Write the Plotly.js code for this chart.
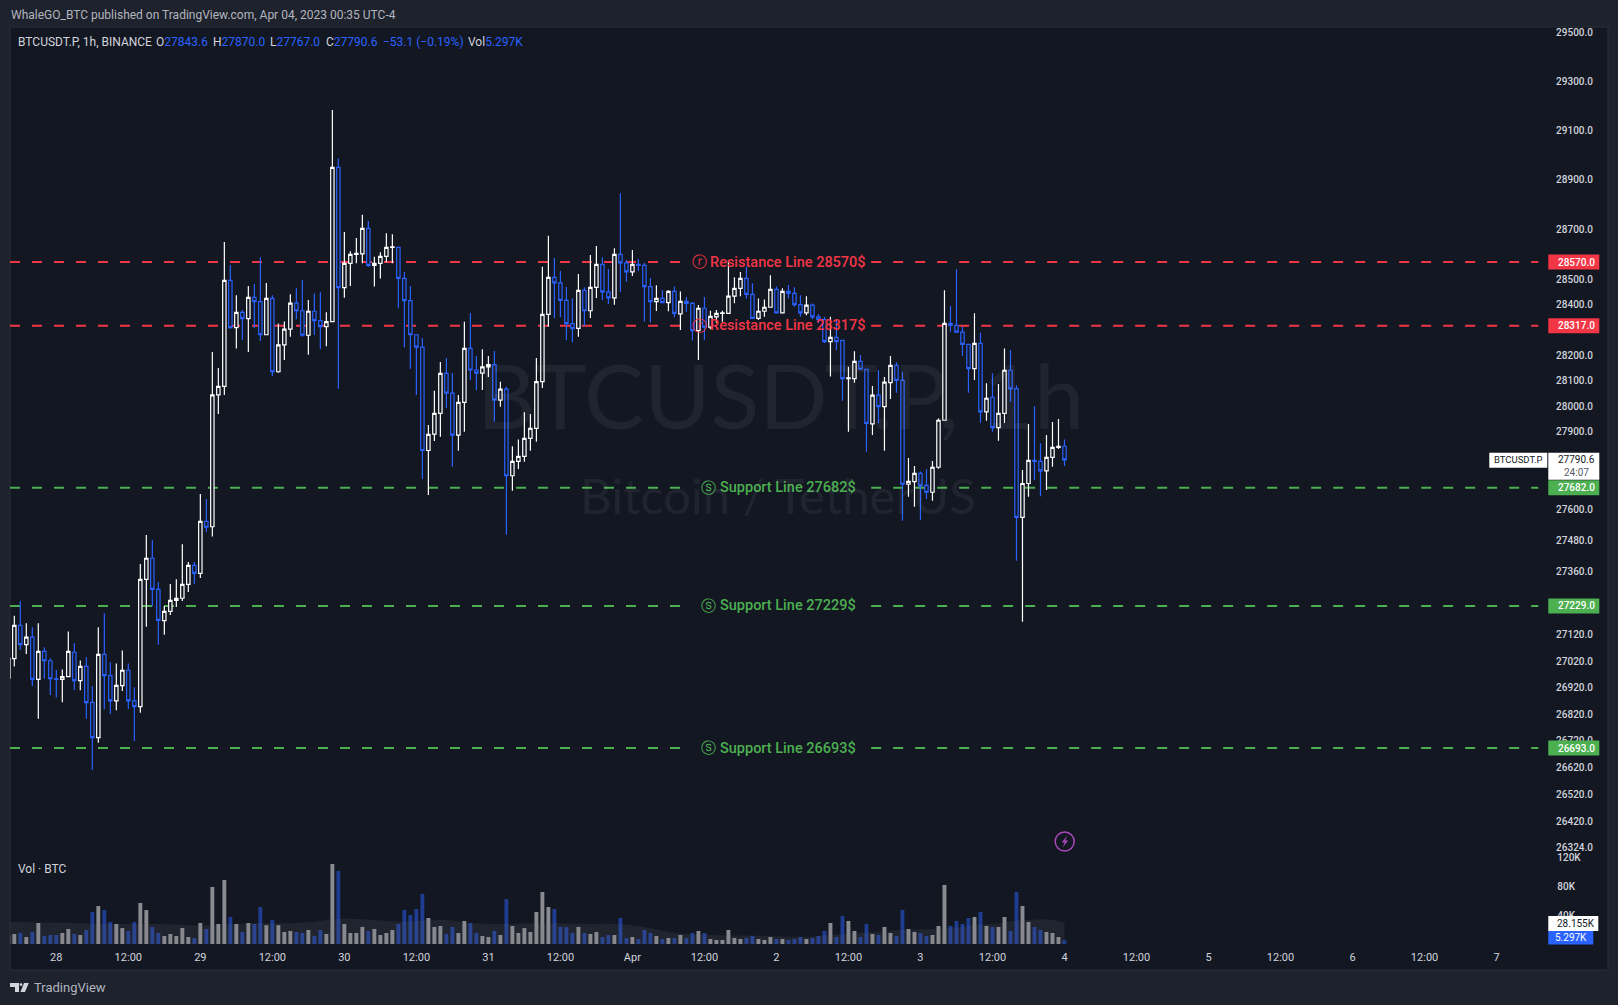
<!DOCTYPE html>
<html>
<head>
<meta charset="utf-8">
<script src="https://cdn.plot.ly/plotly-3.0.1.min.js"></script>
<style>html,body{margin:0;padding:0;background:#1e222d;overflow:hidden}</style>
</head>
<body>
<div id="chart" style="width:1618px;height:1005px"></div>
<script>
// hourly candles, first one is the cut off bar on the left edge
var opens = [26955,
27029,27155,27082,27110,26951,27056,27021,26953,26951,26961,
27053,26946,27000,26864,26732,27045,26965,26870,26927,26985,
26870,26848,27330,27411,27292,27173,27208,27250,27258,27311,
27384,27353,27553,27532,28044,28078,28497,28309,28370,28345,
28429,28412,28281,28425,28135,28241,28303,28406,28376,28279,
28374,28337,28313,28333,28951,28468,28565,28601,28603,28705,
28557,28565,28593,28629,28629,28505,28416,28281,28232,27827,
27891,27972,28129,28051,27887,28015,28227,28142,28130,28154,
28163,28024,28067,27729,27785,27804,27874,27913,28096,28362,
28509,28487,28417,28325,28306,28457,28376,28469,28561,28451,
28427,28601,28567,28531,28561,28557,28472,28412,28425,28408,
28453,28364,28413,28405,28297,28386,28311,28352,28366,28366,
28434,28465,28505,28441,28346,28374,28390,28461,28368,28453,
28445,28400,28368,28398,28352,28341,28254,28271,28259,28108,
28108,28176,28145,27931,28043,27998,28092,28160,28101,27696,
27706,27738,27692,27665,27762,27945,28326,28318,28291,28243,
28147,28247,27978,28035,27916,27972,28141,28069,27568,27699,
27789,27785,27748,27800,27839,27843.6];
var closes = [27030,
27155,27082,27110,26951,27056,27021,26953,26951,26961,27056,
26946,27000,26863,26732,27045,26965,26870,26928,26985,26870,
26848,27330,27411,27292,27174,27208,27250,27258,27311,27384,
27353,27553,27530,28044,28078,28497,28309,28370,28345,28429,
28412,28281,28425,28135,28241,28303,28406,28376,28279,28374,
28337,28313,28333,28951,28468,28565,28601,28605,28705,28557,
28565,28593,28629,28631,28505,28416,28281,28232,27827,27890,
27972,28129,28051,27887,28015,28227,28142,28130,28154,28163,
28024,28067,27729,27785,27804,27874,27913,28096,28362,28509,
28487,28417,28325,28305,28457,28376,28469,28561,28451,28427,
28601,28567,28531,28561,28557,28472,28412,28425,28408,28453,
28366,28413,28405,28297,28386,28311,28354,28366,28368,28434,
28465,28505,28441,28346,28374,28390,28461,28368,28453,28445,
28400,28368,28398,28352,28341,28254,28271,28254,28108,28111,
28176,28145,27933,28043,27998,28094,28160,28101,27696,27707,
27738,27690,27665,27762,27945,28326,28318,28291,28243,28147,
28247,27978,28031,27916,27972,28141,28068,27568,27699,27789,
27785,27748,27800,27839,27843,27790.6];
var highs = [27030,
27191,27248,27163,27148,27163,27072,27030,26986,26988,27132,
27087,27022,27034,26926,27148,27201,27015,27011,27060,27011,
26921,27389,27500,27481,27320,27229,27312,27331,27465,27397,
27397,27658,27639,28213,28150,28650,28558,28438,28379,28474,
28482,28589,28486,28438,28326,28333,28442,28465,28498,28419,
28445,28450,28370,29184,28987,28690,28613,28666,28759,28734,
28591,28609,28685,28681,28629,28530,28474,28281,28267,27926,
28060,28173,28189,28130,28044,28332,28367,28197,28224,28197,
28217,28096,28076,27844,27870,27976,27969,28189,28551,28675,
28586,28534,28470,28425,28522,28469,28598,28634,28589,28542,
28625,28846,28578,28618,28582,28566,28506,28477,28458,28458,
28472,28453,28431,28411,28399,28431,28376,28379,28376,28578,
28509,28530,28551,28485,28425,28421,28517,28472,28465,28478,
28469,28438,28434,28405,28363,28352,28352,28342,28259,28155,
28216,28201,28145,28079,28142,28114,28197,28172,28134,27798,
27767,27745,27754,27786,27952,28458,28395,28541,28313,28243,
28366,28289,28090,28129,28087,28227,28221,28082,27751,27930,
28000,27855,27887,27938,27950,27870];
var lows = [26955,
26999,27062,27046,26926,26803,26953,26892,26882,26865,26961,
26910,26910,26803,26611,26713,26838,26820,26835,26907,26839,
26719,26825,27150,27229,27081,27119,27194,27225,27248,27282,
27312,27335,27512,27494,27969,28044,28305,28227,28260,28213,
28307,28256,28280,28118,28131,28181,28273,28342,28273,28202,
28280,28224,28236,28333,28068,28428,28474,28565,28565,28551,
28472,28504,28569,28565,28388,28232,28147,28044,27716,27654,
27864,27881,27994,27764,27826,27900,28103,28063,28063,28114,
27939,27998,27501,27671,27755,27783,27826,27861,28071,28313,
28347,28350,28260,28250,28273,28316,28347,28427,28419,28403,
28400,28451,28491,28514,28534,28333,28329,28375,28408,28374,
28350,28300,28372,28258,28181,28260,28303,28328,28332,28366,
28406,28434,28424,28346,28339,28352,28388,28368,28368,28425,
28392,28352,28358,28342,28328,28248,28116,28221,28021,27900,
28092,28145,27822,27887,27933,27826,28028,28053,27555,27648,
27609,27558,27639,27632,27756,27945,28293,28291,28197,28053,
28103,27935,27943,27900,27865,27934,28017,27401,27169,27648,
27712,27650,27674,27764,27833,27767];
// volume in thousands of BTC
var vols = [12,
13.8,15.2,9.7,16.6,29,11,12.4,12.4,15.2,20.7,
13.8,12.4,19.3,44.2,52.4,46.9,30.4,27.6,22,18,
30.4,56.6,46.9,23.5,15.2,11,13.8,11,22,9.7,
8.3,29,20.7,78.7,27.6,88.3,37.3,27.6,16.6,29,
27.6,51,26,33,26,16.6,18,16.6,15.2,19.3,
11,19.3,13.8,110.4,100.7,27.6,15.2,15.2,23.5,18,
20.7,12.4,15.2,19.3,27.6,46.9,40,48.3,69,35.9,
23.5,24.8,13.8,23.5,15.2,31.7,29,15.2,11,9.7,
18,12.4,62,24.8,15.2,22,16.6,44.2,71.8,51,
48.3,23.5,23.5,15.2,23.5,15.2,13.8,16.6,9.7,12.4,
12.4,35.9,8.3,9.7,6.9,19.3,15.2,11,6.9,8.3,
8.3,12.4,8.3,15.2,18,15.2,6.9,5.5,5.5,19.3,
8.3,6.9,8.3,11,6.9,5.5,9.7,6.9,6.9,5.5,
6.9,9.7,6.9,8.3,11,18,29,9.7,38.6,31.7,
18,9.7,27.6,13.8,12.4,23.5,15.2,11,46.9,20.7,
16.6,15.2,11,12.4,24.8,81.4,24.8,31.7,27.6,35.9,
37.3,44.2,24.8,23.5,23.5,37.3,18,71.8,52.4,30.4,
23.5,19.3,16.6,15.2,9.7,5.297];
var maBars = [-1,8,16,24,32,40,48,54,60,64,72,76,80,88,96,100,104,110,116,124,132,136,140,148,156,160,164,167,172,175];
var maVals = [30.8,29.4,27.6,27.6,25.8,28.5,29.4,35,33,30.8,33,28.5,27.6,28.5,27.6,27.6,24.8,15.6,12.4,11.5,10,12.4,14.7,19.3,21.6,26.2,28.5,32,34,29.4];

var priceTicks = [29500,29300,29100,28900,28700,28500,28400,28200,28100,28000,27900,27600,27480,27360,27120,27020,26920,26820,26720,26620,26520,26420,26324];
var volTicks = [40,80,120];
var volLabels = ['40K','80K','120K'];
var timeBars = [7,19,31,43,55,67,79,91,103,115,127,139,151,163,175,187,199,211,223,235,247];
var timeLabels = ['28','12:00','29','12:00','30','12:00','31','12:00','Apr','12:00','2','12:00','3','12:00','4','12:00','5','12:00','6','12:00','7'];

var resistance = [28570,28317];
var support = [27682,27229,26693];
var lastPrice = 27790.6;

var bg = '#131722', page = '#1e222d', white = '#ffffff', blue = '#2962ff', red = '#f23645', green = '#4caf50';
var axisText = '#d1d4dc', font = 'Roboto', edge = '#2a2e39';

// plot edges in page pixels. the plot starts above the panel so the top tick label is kept,
// the time labels sit in a strip below it down to panelBottom
var L = 10, R = 1607.7, T = 15, B = 946, panelTop = 27, panelBottom = 970;
var logTop = 4.47091, logBottom = 4.41438;
function xp(px) { return (px - L) / (R - L); }
function yp(py) { return (B - py) / (B - T); }
function priceY(p) { return T + (logTop - Math.log10(p)) / (logTop - logBottom) * (B - T); }

var bars = opens.map(function (v, i) { return i - 1; });

var candles = {
	type: 'candlestick', x: bars, open: opens, high: highs, low: lows, close: closes,
	increasing: {line: {color: white, width: 1.2}, fillcolor: bg},
	decreasing: {line: {color: blue, width: 1.2}, fillcolor: bg},
	whiskerwidth: 0, hoverinfo: 'skip', showlegend: false
};
var volume = {
	type: 'bar', x: bars, y: vols, yaxis: 'y2',
	marker: {color: bars.map(function (b, i) { return closes[i] >= opens[i] ? 'rgba(255,255,255,0.5)' : 'rgba(41,98,255,0.5)'; }), line: {width: 0}},
	hoverinfo: 'skip', showlegend: false
};
var volumeMa = {
	type: 'scatter', mode: 'lines', x: maBars, y: maVals, yaxis: 'y2',
	line: {width: 0, shape: 'spline'}, fill: 'tozeroy', fillcolor: 'rgba(120,123,134,0.13)',
	hoverinfo: 'skip', showlegend: false
};

var shapes = [], notes = [];

// the dark panel with its border
shapes.push({type: 'rect', layer: 'below', xref: 'paper', yref: 'paper', x0: 0, x1: 1, y0: yp(panelBottom), y1: yp(panelTop), fillcolor: bg, line: {color: edge, width: 1}});

function note(px, py, text, color, size, anchor, extra) {
	var a = {xref: 'paper', yref: 'paper', x: xp(px), y: yp(py), text: text, showarrow: false,
		xanchor: anchor || 'left', yanchor: 'middle', font: {family: font, size: size, color: color}};
	for (var k in extra) a[k] = extra[k];
	notes.push(a);
}

function tag(x0, x1, py0, py1, color) {
	shapes.push({type: 'rect', xref: 'paper', yref: 'paper', x0: xp(x0), x1: xp(x1), y0: yp(py0), y1: yp(py1), fillcolor: color, line: {width: 0}});
}

function level(price, color, label, badge) {
	[[10, 681], [871, 1538]].forEach(function (seg) {
		shapes.push({type: 'line', layer: 'below', xref: 'paper', yref: 'y', x0: xp(seg[0]), x1: xp(seg[1]), y0: price, y1: price,
			line: {color: color, width: 2, dash: '10px,12px'}});
	});
	var py = priceY(price);
	note(788, py, label + ' ' + price + '$', color, 14.5, 'center', {font: {family: font, size: 14.5, color: color, weight: 500}});
	note(badge, py, label == 'Resistance Line' ? 'ⓡ' : 'ⓢ', color, 15, 'center', {font: {family: 'DejaVu Sans', size: 15, color: color}});
	tag(1548, 1599, py - 7.5, py + 7.5, color);
	note(1576, py, price.toFixed(1), white, 10, 'center', {font: {family: font, size: 10, color: white, weight: 500}});
}
resistance.forEach(function (p) { level(p, red, 'Resistance Line', 699.4); });
support.forEach(function (p) { level(p, green, 'Support Line', 708.3); });

// last price tag
var lastY = priceY(lastPrice);
tag(1548, 1599, lastY - 7, lastY + 20, white);
tag(1489, 1547, lastY - 7, lastY + 8, white);
note(1576, lastY, lastPrice.toFixed(1), '#131722', 10, 'center');
note(1576, lastY + 13, '24:07', '#555a66', 10, 'center');
note(1518, lastY, 'BTCUSDT.P', '#131722', 9.5, 'center');

// volume tags
tag(1548, 1598, 916, 931, white);
tag(1548, 1593, 931, 944.5, blue);
note(1576, 923.5, '28.155K', '#131722', 10, 'center');
note(1570.5, 937.5, '5.297K', white, 10, 'center');

// watermark
var mark = 'rgba(209,212,220,0.07)';
note(780, 394, 'BTCUSDT.P, 1h', mark, 90, 'center', {font: {family: 'Lato', size: 90, color: mark}});
note(778, 495, 'Bitcoin / TetherUS', mark, 49, 'center', {font: {family: 'Lato', size: 49, color: mark}});

// header and legend
note(9, 15, 'WhaleGO_BTC published on TradingView.com, Apr 04, 2023 00:35 UTC-4', '#b2b5be', 12);
note(15.5, 41.7, 'BTCUSDT.P, 1h, BINANCE', axisText, 12);
[[153.7, 'O', '27843.6'], [210.9, 'H', '27870.0'], [268, 'L', '27767.0'], [324, 'C', '27790.6']].forEach(function (o) {
	note(o[0], 41.7, o[1] + '<span style="color:' + blue + '">' + o[2] + '</span>', axisText, 12);
});
note(380.5, 41.7, '−53.1 (−0.19%)', blue, 12);
note(466, 41.7, 'Vol<span style="color:' + blue + '">5.297K</span>', axisText, 12);
note(15.7, 869.3, 'Vol · BTC', axisText, 12);
note(32, 987.7, 'TradingView', '#b2b5be', 13);

// bolt icon
shapes.push({type: 'circle', xref: 'paper', yref: 'paper', x0: xp(1055), x1: xp(1074), y0: yp(832), y1: yp(851), line: {color: '#ab47bc', width: 1.5}, fillcolor: 'rgba(0,0,0,0)'});
function path(pts, close) {
	return pts.map(function (p, i) { return (i ? 'L' : 'M') + xp(p[0]) + ',' + yp(p[1]); }).join(' ') + (close ? ' Z' : '');
}
shapes.push({type: 'path', xref: 'paper', yref: 'paper', path: path([[1067, 835.5], [1061.5, 842.5], [1064.5, 842.5], [1062.5, 847.5], [1068, 840.5], [1065, 840.5]], true), fillcolor: '#ab47bc', line: {width: 0}});

// TradingView mark
shapes.push({type: 'path', xref: 'paper', yref: 'paper', path: path([[10, 983], [19, 983], [19, 992], [15, 992], [15, 987], [10, 987]], true), fillcolor: '#d1d4dc', line: {width: 0}});
shapes.push({type: 'circle', xref: 'paper', yref: 'paper', x0: xp(19.6), x1: xp(22.4), y0: yp(983.2), y1: yp(986), fillcolor: '#d1d4dc', line: {width: 0}});
shapes.push({type: 'path', xref: 'paper', yref: 'paper', path: path([[24, 983], [28.8, 983], [25, 992], [20.5, 992]], true), fillcolor: '#d1d4dc', line: {width: 0}});

var layout = {
	width: 1618, height: 1005, autosize: false,
	margin: {l: L, r: 1618 - R, t: T, b: 1005 - B, pad: 0},
	paper_bgcolor: page, plot_bgcolor: 'rgba(0,0,0,0)',
	showlegend: false, barmode: 'overlay', bargap: 0.35, boxgap: 0.2, hovermode: false, dragmode: false,
	xaxis: {
		range: [-0.717, 265.57], tickmode: 'array', tickvals: timeBars, ticktext: timeLabels,
		showgrid: false, zeroline: false, ticks: '', rangeslider: {visible: false},
		tickangle: 0, ticklabelstandoff: 3,
		tickfont: {family: font, size: 11, color: axisText},
		showline: false
	},
	yaxis: {
		type: 'log', range: [logBottom, logTop], side: 'right', tickmode: 'array',
		tickvals: priceTicks, ticktext: priceTicks.map(function (p) { return p.toFixed(1); }),
		ticklabelposition: 'inside', ticklabelstandoff: 12, showgrid: false, zeroline: false, ticks: '',
		tickfont: {family: font, size: 10, color: axisText, weight: 500},
		showline: false
	},
	yaxis2: {
		domain: [0, 96 / 931], range: [-2.76, 129.66], anchor: 'free', position: xp(1556), side: 'right',
		tickmode: 'array', tickvals: volTicks, ticktext: volLabels, showgrid: false, zeroline: false, ticks: '', showline: false,
		tickfont: {family: font, size: 10, color: axisText, weight: 500}
	},
	shapes: shapes, annotations: notes
};

Plotly.newPlot('chart', [volumeMa, volume, candles], layout, {staticPlot: true, displayModeBar: false});
</script>
</body>
</html>
